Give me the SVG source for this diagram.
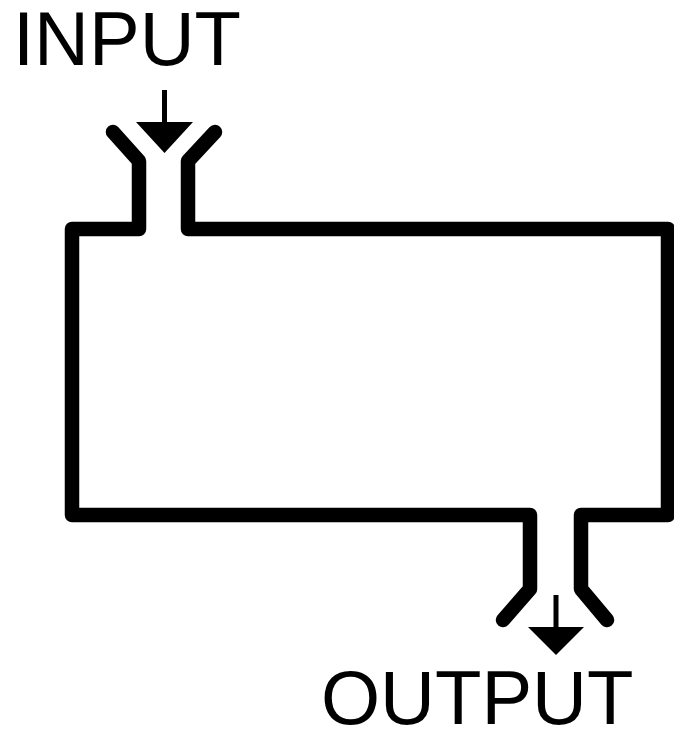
<svg xmlns="http://www.w3.org/2000/svg" width="674" height="731" viewBox="0 0 674 731">
<style>
.wall{fill:none;stroke:#000;stroke-width:14.5;stroke-linejoin:round;stroke-linecap:round}
.stem{stroke:#000;stroke-width:5}
.lbl{font-family:"Liberation Sans",Arial,sans-serif;font-size:76px;fill:#000}
</style>
<rect width="674" height="731" fill="#fff"/>
<g id="tank">
<path class="wall" d="M113,132 L139,161 L139,229 L72,229 L72,515 L530,515 L530,589 L503,620"/>
<path class="wall" d="M215,132 L188,161 L188,229 L668,229 L668,515 L581,515 L581,589 L607,620"/>
</g>
<g id="connectors">
<g id="input-arrow">
<line class="stem" x1="164.5" y1="90" x2="164.5" y2="126"/>
<polygon points="136,122 193,122 164.5,153"/>
</g>
<g id="output-arrow">
<line class="stem" x1="556" y1="595" x2="556" y2="630"/>
<polygon points="528,627 584,627 556,655"/>
</g>
</g>
<g id="input-label"><text class="lbl" x="13" y="65">INPUT</text></g>
<g id="output-label"><text class="lbl" x="321" y="724">OUTPUT</text></g>
</svg>
